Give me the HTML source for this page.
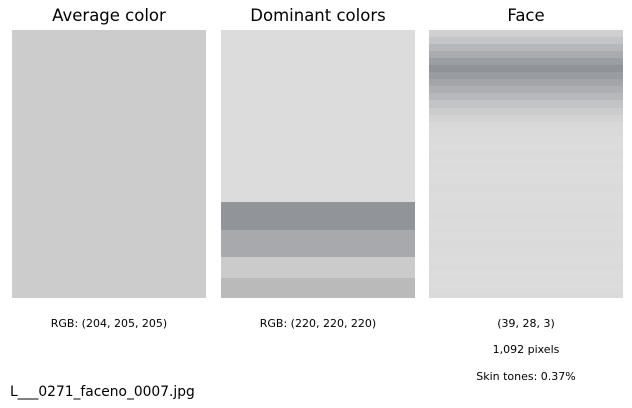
<!DOCTYPE html>
<html><head><meta charset="utf-8"><style>
body{margin:0;background:#fff;width:632px;height:408px;position:relative;overflow:hidden;font-family:"DejaVu Sans","Liberation Sans",sans-serif;color:#000}
.t{position:absolute;font-size:16.5px;text-align:center;width:194px;top:6px;line-height:20px}
.l{position:absolute;font-size:11px;text-align:center;width:194px;line-height:13px}
.p{position:absolute;top:30px;width:194px;height:268px}
</style></head><body>
<div class="t" style="left:12px">Average color</div>
<div class="t" style="left:221px">Dominant colors</div>
<div class="t" style="left:429px">Face</div>
<div class="p" style="left:12px;background:#cccccc"></div>
<div class="p" style="left:221px">
<div style="height:172px;background:#dcdcdc"></div>
<div style="height:28px;background:#919498"></div>
<div style="height:27px;background:#a8a9ac"></div>
<div style="height:21px;background:#cbcbcb"></div>
<div style="height:20px;background:#bababa"></div>
</div>
<div class="p" id="face" style="left:429px"></div>
<div class="l" style="left:12px;top:317px">RGB: (204, 205, 205)</div>
<div class="l" style="left:221px;top:317px">RGB: (220, 220, 220)</div>
<div class="l" style="left:429px;top:317px">(39, 28, 3)</div>
<div class="l" style="left:429px;top:343px">1,092 pixels</div>
<div class="l" style="left:429px;top:370px">Skin tones: 0.37%</div>
<div style="position:absolute;left:10px;top:384px;font-size:13.8px;line-height:17px">L___0271_faceno_0007.jpg</div>
<script>
const rows=['#d0d0d2','#c4c5c8','#b5b7ba','#a9abaf','#9b9ea2','#8f9297','#989b9f','#a3a5a9','#adafb2','#b7b8bb','#c3c4c6','#cbcccd','#d3d3d4','#d8d8d9','#dadadb','#dbdbdb','#dcdcdc','#dadada','#dcdcdc','#dbdbdb','#dddddd','#dcdcdc','#dadada','#dcdcdc','#dbdbdb','#dcdcdc','#dadada','#dcdcdc','#dbdbdb','#dcdcdc','#dadada','#dbdbdb','#dcdcdc','#dadada','#dcdcdc','#dbdbdb','#dcdcdc','#dadada'];
const f=document.getElementById('face');
const h=268/rows.length;
rows.forEach(c=>{const d=document.createElement('div');


d.style.height=h+'px';d.style.background=c;f.appendChild(d);});
</script>
</body></html>
